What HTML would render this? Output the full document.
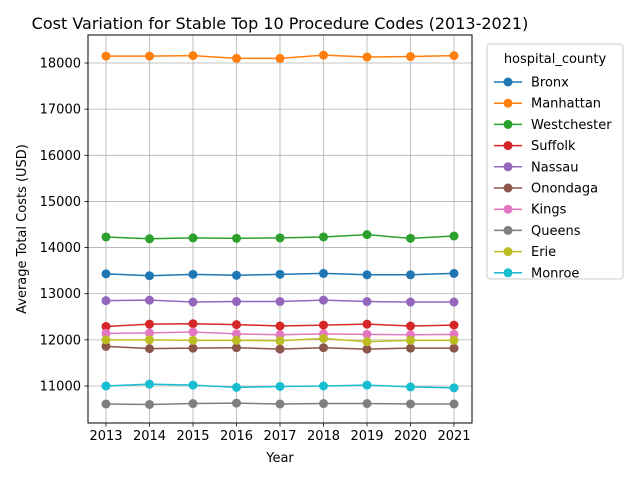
<!DOCTYPE html>
<html><head><meta charset="utf-8"><style>
body{margin:0;background:#fff;font-family:"Liberation Sans","DejaVu Sans",sans-serif}
</style></head><body>
<svg id="chart" width="640" height="480" xmlns="http://www.w3.org/2000/svg" font-family="'DejaVu Sans','Liberation Sans',sans-serif"></svg>
<script>
const years=[2013,2014,2015,2016,2017,2018,2019,2020,2021];
const seriesNames=["Bronx","Manhattan","Westchester","Suffolk","Nassau","Onondaga","Kings","Queens","Erie","Monroe"];
const colors=["#1f77b4","#ff7f0e","#2ca02c","#d62728","#9467bd","#8c564b","#e377c2","#7f7f7f","#bcbd22","#17becf"];
const bronx=[13430,13390,13420,13400,13420,13440,13410,13410,13440];
const manhattan=[18150,18150,18160,18100,18100,18170,18130,18140,18160];
const westchester=[14230,14190,14210,14200,14210,14230,14280,14200,14250];
const suffolk=[12290,12340,12350,12330,12300,12320,12340,12300,12320];
const nassau=[12850,12860,12820,12830,12830,12860,12830,12820,12820];
const onondaga=[11860,11810,11820,11830,11800,11830,11800,11820,11820];
const kings=[12140,12150,12170,12130,12110,12130,12120,12110,12120];
const queens=[10610,10600,10620,10630,10610,10620,10620,10610,10610];
const erie=[12000,12000,11990,11990,11980,12030,11960,11990,11990];
const monroe=[11000,11040,11020,10970,10990,11000,11020,10980,10960];
const yTicks=[11000,12000,13000,14000,15000,16000,17000,18000];
const allSeries=[bronx,manhattan,westchester,suffolk,nassau,onondaga,kings,queens,erie,monroe];

const L=88,R=472,T=35,B=423,yMin=10198,yMax=18607;
const x=i=>106+(454-106)*(i)/(years.length-1);
const y=v=>B-(v-yMin)/(yMax-yMin)*(B-T);
const svg=document.getElementById('chart');
const NS="http://www.w3.org/2000/svg";
function mk(t,a,p){const e=document.createElementNS(NS,t);for(const k in a)e.setAttribute(k,a[k]);(p||svg).appendChild(e);return e;}

// grid
years.forEach((yr,i)=>{
 const g=mk('line',{x1:x(i),x2:x(i),y1:T,y2:B,stroke:'#b0b0b0','stroke-width':0.8});
 
 
 mk('line',{x1:x(i),x2:x(i),y1:B,y2:B+3.5,stroke:'#000','stroke-width':0.8});
 const t=mk('text',{x:x(i),y:B+17,'font-size':13,'text-anchor':'middle'});t.textContent=yr;
 
 
});
yTicks.forEach(v=>{
 const g=mk('line',{x1:L,x2:R,y1:y(v),y2:y(v),stroke:'#b0b0b0','stroke-width':0.8});
 
 
 mk('line',{x1:L-3.5,x2:L,y1:y(v),y2:y(v),stroke:'#000','stroke-width':0.8});
 const t=mk('text',{x:L-7,y:y(v)+4.5,'font-size':13,'text-anchor':'end'});t.textContent=v;
 
 
});
// series
allSeries.forEach((s,k)=>{
 const g=mk('g',{});
 
 
 mk('polyline',{points:s.map((v,i)=>x(i)+','+y(v)).join(' '),fill:'none',stroke:colors[k],'stroke-width':1.5},g);
 s.forEach((v,i)=>{const c=mk('circle',{cx:x(i),cy:y(v),r:4.5,fill:colors[k]},g);
  
  });
});
const ax=mk('rect',{x:L,y:T,width:R-L,height:B-T,fill:'none',stroke:'#000','stroke-width':1});


const title=mk('text',{x:280,y:29,'font-size':16,'text-anchor':'middle'});title.textContent="Cost Variation for Stable Top 10 Procedure Codes (2013-2021)";


const xt=mk('text',{x:280,y:462,'font-size':13,'text-anchor':'middle'});xt.textContent="Year";


const yt=mk('text',{x:26,y:229,'font-size':13,'text-anchor':'middle',transform:'rotate(-90 26 229)'});yt.textContent="Average Total Costs (USD)";


// legend
const lg=mk('g',{});


mk('rect',{x:487,y:44,width:136,height:235,rx:3,fill:'#fff',stroke:'#ccc','stroke-width':1},lg);
const lt=mk('text',{x:555,y:63,'font-size':13,'text-anchor':'middle'},lg);lt.textContent="hospital_county";
seriesNames.forEach((n,k)=>{
 const yy=82+k*21.2;
 const e=mk('g',{},lg);
 
 
 mk('line',{x1:494,x2:522,y1:yy,y2:yy,stroke:colors[k],'stroke-width':1.5},e);
 mk('circle',{cx:508,cy:yy,r:4.5,fill:colors[k]},e);
 const t=mk('text',{x:531,y:yy+4.5,'font-size':13},e);t.textContent=n;
});
</script>
</body></html>
